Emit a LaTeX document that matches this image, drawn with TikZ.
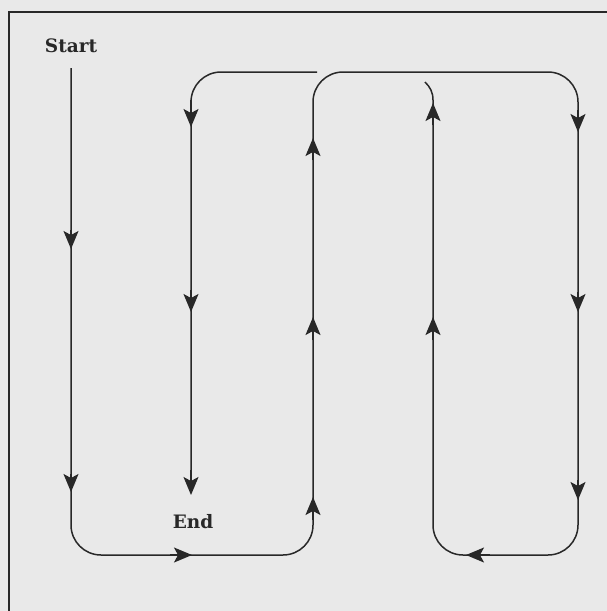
\documentclass[tikz,border=0pt]{standalone}
\usepackage{fontspec}
\newfontfamily\labelfont{DejaVu Serif}
\usetikzlibrary{arrows.meta}
\definecolor{paper}{RGB}{233,233,233}
\definecolor{ink}{RGB}{40,40,40}
\tikzset{
  route/.style={draw=ink, line width=1.5pt, rounded corners=30pt},
  plainline/.style={draw=ink, line width=1.5pt},
  tipmark/.style={draw=ink, line width=1.5pt, -{Stealth[length=18pt,width=15pt,inset=4pt]}},
  framebox/.style={draw=ink, line width=1.3pt},
  lbl/.style={font=\labelfont\bfseries\fontsize{18.5}{20}\selectfont, text=ink, inner sep=0pt}
}
\begin{document}
\begin{tikzpicture}[x=1pt,y=-1pt]
\useasboundingbox (0,0) rectangle (607,611);
\fill[paper] (0,0) rectangle (607,611);
\draw[framebox] (9,640) -- (9,12) -- (640,12);
\node[lbl] (start) at (71,46) {Start};
\node[lbl] (end) at (193,522) {End};
\coordinate (p0) at (71,68);
\coordinate (q0) at (317,72);
\coordinate (p1) at (433,100);
\coordinate (p2) at (425,82);
% main route
\draw[route] (p0) -- (71,555) -- (313,555) -- (313,72) -- (578,72) -- (578,555) -- (433,555) -- (p1);
\draw[plainline] (p1) .. controls (433,92) and (430,87) .. (p2);
% second route
\draw[route] (q0) -- (191,72) -- (191,480);
\draw[tipmark] (191,470) -- (191,495);
% arrow heads along the routes
\draw[tipmark] (71,230) -- (71,249);
\draw[tipmark] (71,474) -- (71,492);
\draw[tipmark] (170,555) -- (192,555);
\draw[tipmark] (313,520) -- (313,497);
\draw[tipmark] (313,340) -- (313,317);
\draw[tipmark] (313,160) -- (313,138);
\draw[tipmark] (578,110) -- (578,132);
\draw[tipmark] (578,292) -- (578,312);
\draw[tipmark] (578,480) -- (578,500);
\draw[tipmark] (490,555) -- (466,555);
\draw[tipmark] (433,340) -- (433,317);
\draw[tipmark] (433,125) -- (433,103);
\draw[tipmark] (191,100) -- (191,127);
\draw[tipmark] (191,290) -- (191,312);
\end{tikzpicture}
\end{document}
